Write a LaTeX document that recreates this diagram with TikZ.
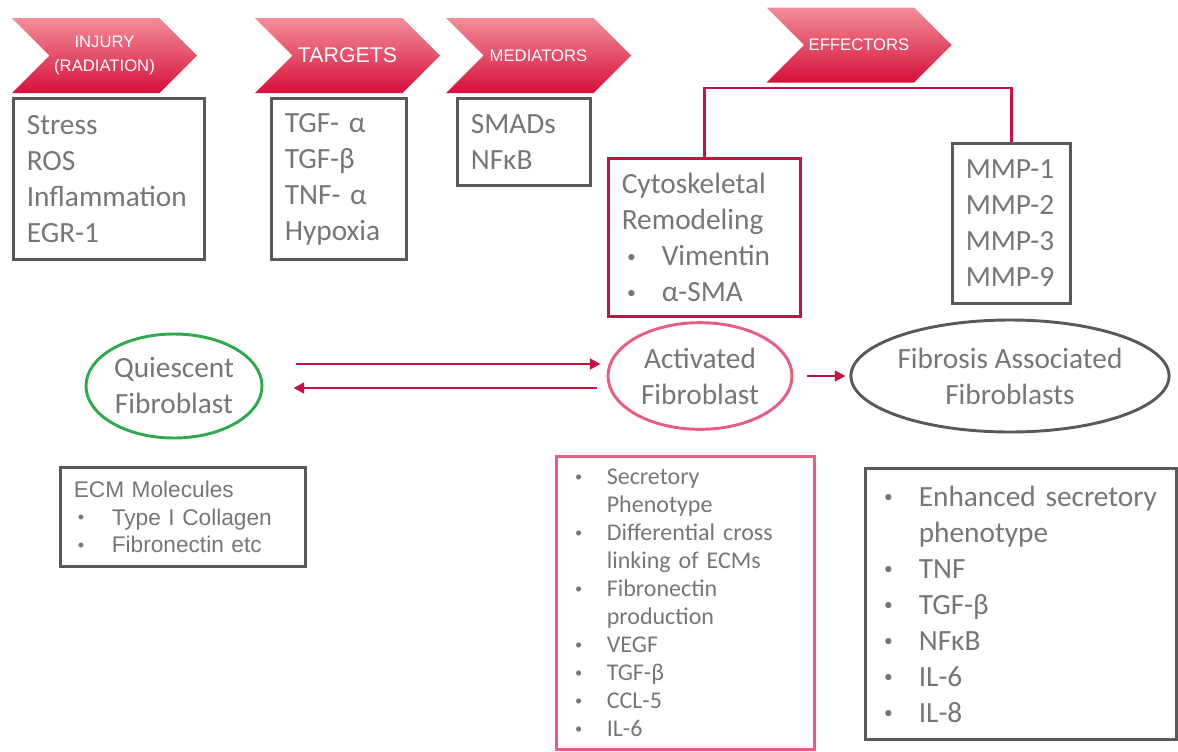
\documentclass[tikz,border=0pt]{standalone}
\usepackage{fontspec}
\setmainfont{Carlito}
\newfontfamily\arialfont{Liberation Sans}
\usepackage{xcolor}
\usepackage{graphicx}
\usepackage{tikz}
\usetikzlibrary{shapes.geometric, shapes.symbols, arrows.meta, positioning, calc}

\definecolor{txtgray}{RGB}{118,118,118}
\definecolor{boxgray}{RGB}{89,89,89}
\definecolor{crimson}{RGB}{196,18,68}
\definecolor{rosepink}{RGB}{232,92,128}
\definecolor{leafgreen}{RGB}{46,170,76}
\definecolor{chevtop}{RGB}{243,142,152}
\definecolor{chevbot}{RGB}{214,16,58}

\newcommand{\bul}[1]{\makebox[#1][l]{\hspace{4pt}\raisebox{0.12em}{\scalebox{0.6}{\textbullet}}}}
\newcommand{\ecmbul}[1]{\makebox[#1][l]{\hspace{3pt}\raisebox{0.05em}{\scalebox{0.8}{\textbullet}}}}
\newcommand{\ind}[1]{\hspace*{#1}}

\begin{document}
\begin{tikzpicture}[
    x=0.75pt, y=-0.75pt,
    chev/.style={signal, signal to=east, signal from=west, top color=chevtop, bottom color=chevbot, draw=none, minimum width=138.75pt, minimum height=56.25pt, inner sep=0pt, text=white, align=center, font=\arialfont\fontsize{12.5}{18}\selectfont},
    infobox/.style={rectangle, draw=boxgray, line width=2.2pt, anchor=north west, align=left, inner xsep=10pt, inner ysep=0pt, text=txtgray, font=\fontsize{22}{27}\selectfont},
    cell/.style={ellipse, line width=2.2pt, inner sep=0pt, align=center, text=txtgray, font=\fontsize{22}{27}\selectfont},
    flow/.style={-{Triangle[length=8pt,width=8pt]}, line width=2.2pt, crimson},
    effline/.style={line width=2.2pt, crimson}
]
\useasboundingbox (0,0) rectangle (1178,751);

% Stufen
\node[chev] (inj) at (104.5,55.5) {INJURY\\(RADIATION)};
\node[chev, font=\arialfont\fontsize{16}{19}\selectfont] (tgt) at (347.5,55.5) {TARGETS};
\node[chev] (med) at (538.5,55.5) {MEDIATORS};
\node[chev] (eff) at (859,45) {EFFECTORS};

% Listen unter den Stufen
\node[infobox, text width=123.25pt, minimum height=120.75pt] (injbox) at (12,97) {Stress\\ROS\\Inflammation\\EGR-1};
\node[infobox, text width=81.25pt, minimum height=120.75pt] (tgtbox) at (270,97) {TGF- α\\TGF-β\\TNF- α\\Hypoxia};
\node[infobox, text width=79.75pt, minimum height=65.25pt] (medbox) at (456,97) {SMADs\\NFκB};

% Effektoren
\node[infobox, draw=crimson, text width=124pt, minimum height=118.5pt] (cyto) at (607,157) {Cytoskeletal\\Remodeling\\\bul{30pt}Vimentin\\\bul{30pt}α-SMA};
\node[infobox, text width=68.5pt, minimum height=120pt] (mmp) at (951,142) {MMP-1\\MMP-2\\MMP-3\\MMP-9};
\draw[effline] (cyto.north) -- ++(0,-69) -| (mmp.north);

% Fibroblasten
\node[cell, draw=leafgreen, minimum width=132pt, minimum height=78pt] (quies) at (174,386) {Quiescent\\Fibroblast};
\node[cell, draw=rosepink, minimum width=138pt, minimum height=80pt] (act) at (700,376) {Activated\\Fibroblast};
\node[cell, draw=boxgray, minimum width=221pt, minimum height=84pt] (fib) at (1010,376) {Fibrosis Associated\\Fibroblasts};

% Pfeile
\coordinate (qa) at ([shift={(33,-22)}]quies.east);
\coordinate (qb) at ([shift={(30,2)}]quies.east);
\draw[flow, shorten >=4.5pt] (qa) -- (qa -| act.west);
\draw[flow, shorten <=7.5pt] (qb -| act.west) -- (qb);
\draw[flow, shorten <=10pt, shorten >=3pt] (act.east) -- (fib.west);

% Eigenschaften
\node[infobox, text width=163.75pt, minimum height=74.25pt, font=\arialfont\fontsize{17}{20.6}\selectfont] (ecm) at (59,466) {ECM Molecules\\\ecmbul{28.5pt}Type I Collagen\\\ecmbul{28.5pt}Fibronectin etc};
\node[infobox, draw=rosepink, text width=173.5pt, minimum height=219.75pt, font=\fontsize{18}{21}\selectfont] (actlist) at (555,455) {\bul{27.75pt}Secretory\\\ind{27.75pt}Phenotype\\\bul{27.75pt}\mbox{Differential cross}\\\ind{27.75pt}\mbox{linking of ECMs}\\\bul{27.75pt}Fibronectin\\\ind{27.75pt}production\\\bul{27.75pt}VEGF\\\bul{27.75pt}TGF-β\\\bul{27.75pt}CCL-5\\\bul{27.75pt}IL-6};
\node[infobox, text width=213.25pt, minimum height=203.25pt] (fiblist) at (864,467) {\bul{30pt}\mbox{Enhanced secretory}\\\ind{30pt}phenotype\\\bul{30pt}TNF\\\bul{30pt}TGF-β\\\bul{30pt}NFκB\\\bul{30pt}IL-6\\\bul{30pt}IL-8};

\end{tikzpicture}
\end{document}
